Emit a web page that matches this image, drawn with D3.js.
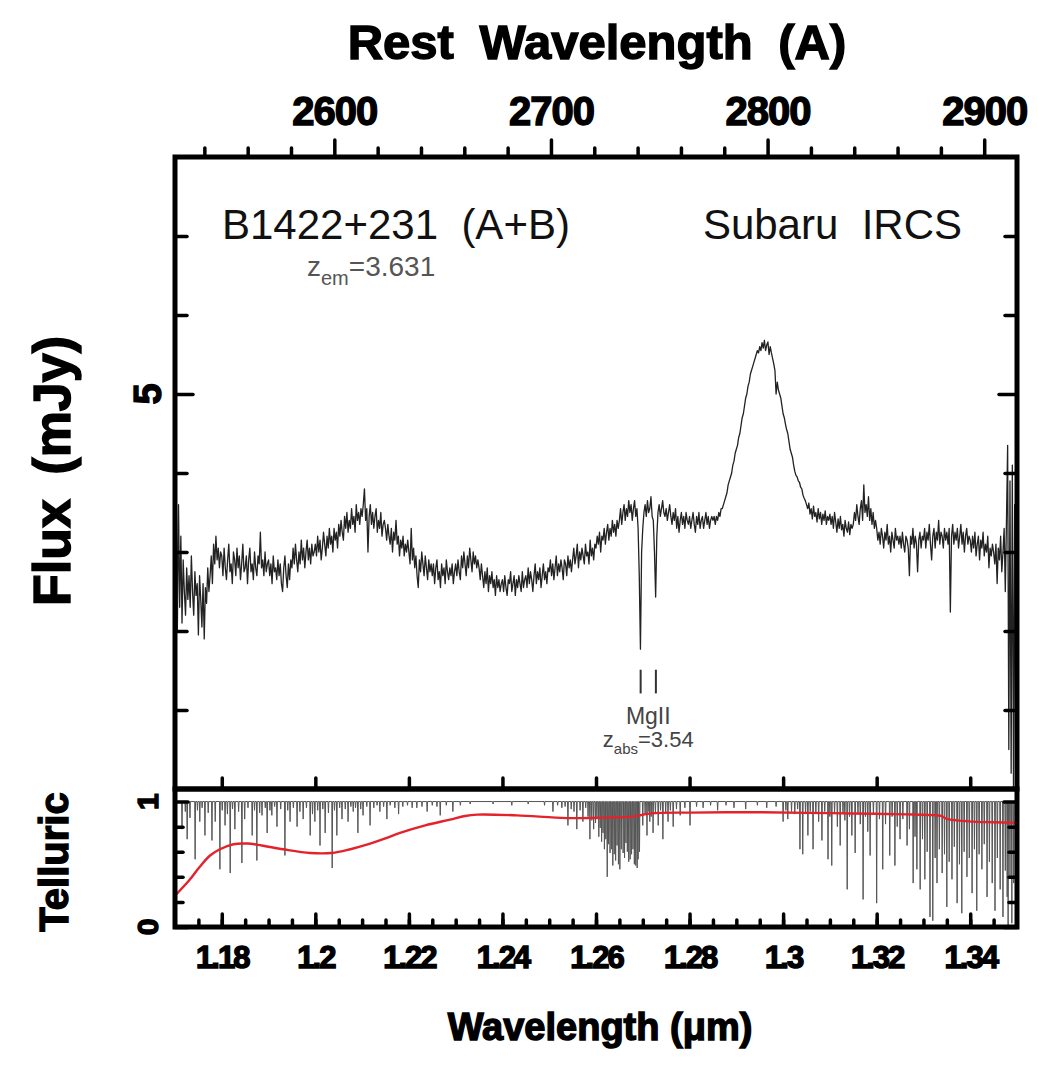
<!DOCTYPE html>
<html>
<head>
<meta charset="utf-8">
<script src="https://cdn.jsdelivr.net/npm/d3@7"></script>
<style>
  body { margin: 0; background: #fff; }
  svg { display: block; }
  text { font-family: "Liberation Sans", Arial, Helvetica, sans-serif; }
</style>
</head>
<body>
<svg id="chart" width="1037" height="1065"></svg>
<script>
// ---- Data -------------------------------------------------------------
const zEm = 3.631;            // emission redshift of the quasar
const zAbs = 3.54;            // MgII absorber redshift
const lambdaStart = 1.17;     // first pixel of the extracted spectrum (micron)
const lambdaStep = 0.00025;   // dispersion per pixel (micron)

// Observed flux density (mJy), one value per pixel from 1.17000 to 1.34975 micron
const flux = [
  3.0, 4.0, 2.0, 3.6, 2.3, 3.2, 2.1, 2.9, 2.5, 2.2, 2.8, 2.4, 2.7, 2.3, 2.95, 2.5, 2.2, 2.75, 2.45, 2.6,
  1.95, 2.7, 2.4, 2.05, 2.6, 1.9, 2.55, 2.35, 2.8, 2.5, 2.7, 2.95, 2.6, 3.1, 2.85, 3.2, 2.9, 3.05, 2.8, 3.0,
  2.95, 2.7, 3.05, 2.8, 2.65, 2.9, 3.1, 2.75, 2.85, 2.6, 3.0, 2.9, 2.7, 3.05, 2.8, 2.95, 2.65, 2.85, 3.1, 2.75,
  2.8, 2.95, 2.6, 2.9, 3.05, 2.75, 2.85, 2.65, 3.0, 2.8, 2.7, 2.95, 2.85, 3.25, 2.8, 2.9, 2.7, 3.0, 2.75, 2.85,
  2.9, 2.7, 2.85, 2.6, 2.95, 2.75, 2.8, 2.65, 2.9, 2.7, 2.85, 2.6, 2.5, 2.8, 2.95, 2.7, 2.55, 2.85, 2.65, 2.9,
  2.8, 3.05, 2.85, 3.1, 2.9, 2.75, 3.0, 2.85, 3.15, 2.9, 3.05, 2.8, 3.0, 3.15, 2.9, 3.05, 2.85, 3.1, 2.95, 3.0,
  3.1, 2.95, 3.2, 3.0, 3.15, 2.9, 3.05, 3.25, 3.1, 2.95, 3.2, 3.05, 3.3, 3.1, 3.2, 3.0, 3.3, 3.15, 3.25, 3.05,
  3.35, 3.2, 3.4, 3.25, 3.15, 3.45, 3.3, 3.5, 3.25, 3.4, 3.3, 3.55, 3.35, 3.45, 3.25, 3.6, 3.4, 3.5, 3.35, 3.55,
  3.45, 3.6, 3.8, 3.4, 3.55, 3.0, 3.45, 3.6, 3.35, 3.5, 3.3, 3.45, 3.55, 3.25, 3.4, 3.3, 3.5, 3.2, 3.35, 3.4,
  3.3, 3.15, 3.35, 3.2, 3.1, 3.3, 3.0, 3.25, 3.15, 3.4, 3.1, 3.2, 2.95, 3.15, 3.05, 3.2, 2.95, 3.1, 3.0, 3.15,
  3.0, 2.85, 3.3, 2.9, 3.05, 2.8, 2.95, 2.7, 2.55, 2.9, 2.75, 3.0, 2.85, 2.7, 2.95, 2.8, 2.65, 2.9, 2.75, 2.85,
  2.7, 2.85, 2.6, 2.8, 2.9, 2.65, 2.75, 2.55, 2.85, 2.7, 2.8, 2.6, 2.9, 2.75, 2.65, 2.8, 2.7, 2.85, 2.6, 2.75,
  2.85, 2.7, 2.9, 2.75, 2.65, 2.95, 2.8, 3.0, 2.85, 2.7, 2.95, 2.8, 3.05, 2.9, 2.75, 3.0, 2.85, 2.95, 2.8, 2.9,
  2.8, 2.65, 2.85, 2.7, 2.55, 2.75, 2.6, 2.8, 2.5, 2.7, 2.6, 2.75, 2.55, 2.65, 2.45, 2.7, 2.55, 2.65, 2.5, 2.6,
  2.65, 2.5, 2.7, 2.55, 2.45, 2.65, 2.6, 2.75, 2.5, 2.6, 2.7, 2.45, 2.65, 2.55, 2.7, 2.6, 2.5, 2.75, 2.55, 2.65,
  2.7, 2.55, 2.8, 2.6, 2.75, 2.65, 2.5, 2.7, 2.85, 2.6, 2.75, 2.65, 2.8, 2.55, 2.7, 2.85, 2.65, 2.75, 2.6, 2.8,
  2.75, 2.9, 2.7, 2.85, 2.65, 2.8, 2.95, 2.7, 2.85, 2.75, 2.9, 2.8, 2.65, 2.9, 2.85, 2.7, 2.95, 2.8, 2.9, 2.75,
  2.9, 3.05, 2.85, 2.95, 3.1, 2.8, 3.0, 2.9, 3.05, 2.95, 2.85, 3.1, 2.95, 3.0, 2.85, 3.15, 2.95, 3.05, 2.9, 3.1,
  3.05, 3.2, 3.1, 3.25, 3.0, 3.2, 3.15, 3.3, 3.1, 3.25, 3.35, 3.15, 3.3, 3.2, 3.4, 3.25, 3.35, 3.2, 3.4, 3.3,
  3.4, 3.55, 3.35, 3.5, 3.6, 3.4, 3.55, 3.45, 3.65, 3.5, 3.6, 3.4, 3.55, 3.65, 3.45, 3.55, 3.3, 2.7, 1.77, 3.0,
  3.3, 3.5, 3.6, 3.45, 3.65, 3.5, 3.55, 3.7, 3.45, 3.4, 3.0, 2.43, 3.2, 3.5, 3.6, 3.45, 3.55, 3.65, 3.5, 3.45,
  3.55, 3.4, 3.5, 3.6, 3.45, 3.35, 3.5, 3.4, 3.55, 3.3, 3.45, 3.25, 3.4, 3.5, 3.35, 3.45, 3.3, 3.5, 3.4, 3.35,
  3.45, 3.3, 3.4, 3.5, 3.35, 3.25, 3.45, 3.35, 3.5, 3.3, 3.4, 3.45, 3.3, 3.4, 3.5, 3.35, 3.45, 3.3, 3.4, 3.45,
  3.4, 3.45, 3.35, 3.45, 3.4, 3.5, 3.45, 3.55, 3.55, 3.6, 3.65, 3.7, 3.75, 3.85, 3.9, 3.95, 4.0, 4.1, 4.15, 4.25,
  4.3, 4.35, 4.45, 4.5, 4.6, 4.7, 4.75, 4.85, 4.95, 5.0, 5.1, 5.15, 5.25, 5.3, 5.35, 5.4, 5.45, 5.5, 5.55, 5.52,
  5.6, 5.55, 5.65, 5.58, 5.68, 5.55, 5.62, 5.66, 5.5, 5.6, 5.52, 5.45, 5.38, 5.3, 5.0, 5.15, 5.05, 5.0, 4.95, 4.85,
  4.75, 4.7, 4.62, 4.55, 4.5, 4.4, 4.3, 4.25, 4.2, 4.1, 4.02, 3.97, 3.95, 3.9, 3.88, 3.82, 3.8, 3.72, 3.68, 3.65,
  3.6, 3.55, 3.62, 3.48, 3.55, 3.42, 3.58, 3.45, 3.5, 3.38, 3.55, 3.42, 3.5, 3.35, 3.48, 3.4, 3.52, 3.35, 3.45, 3.4,
  3.48, 3.35, 3.45, 3.3, 3.5, 3.38, 3.25, 3.42, 3.3, 3.45, 3.28, 3.35, 3.2, 3.4, 3.3, 3.25, 3.38, 3.22, 3.35, 3.3,
  3.35, 3.5, 3.4, 3.6, 3.45, 3.35, 3.55, 3.65, 3.4, 3.85, 3.5, 3.6, 3.45, 3.7, 3.4, 3.55, 3.35, 3.5, 3.3, 3.4,
  3.3, 3.15, 3.25, 3.1, 3.3, 3.2, 3.05, 3.25, 3.15, 3.35, 3.1, 3.2, 3.0, 3.25, 3.15, 3.05, 3.3, 3.15, 3.2, 3.1,
  3.2, 3.05, 3.25, 3.1, 3.0, 3.2, 3.15, 3.05, 2.7, 3.2, 3.1, 3.3, 3.05, 3.2, 3.1, 2.75, 3.15, 3.25, 3.05, 3.2,
  3.15, 3.3, 3.05, 3.25, 3.15, 3.35, 3.1, 2.9, 3.2, 3.3, 3.05, 3.25, 3.15, 3.4, 3.1, 3.25, 3.2, 3.05, 3.3, 3.15,
  3.25, 3.1, 3.3, 2.24, 3.2, 3.35, 3.1, 3.25, 3.15, 3.3, 3.05, 3.2, 3.35, 3.1, 3.25, 3.0, 3.2, 3.3, 3.1, 3.2,
  3.15, 3.0, 3.2, 3.05, 3.25, 2.95, 3.1, 3.2, 2.9, 3.15, 3.05, 3.25, 2.95, 3.1, 3.0, 3.2, 2.8, 3.05, 2.95, 3.1,
  3.0, 2.85, 3.1, 2.6, 3.05, 2.9, 3.2, 2.75, 3.0, 3.3, 2.5, 3.4, 4.35, 0.5, 3.9, 0.2, 4.1, 0.0, 3.6, 0.0
];

// MgII doublet rest wavelengths (micron)
const mgIIRest = [0.279635, 0.280353];

// Telluric standard: absorption lines [wavelength (micron), transmission at line centre]
const tellLines = [
  [1.1715,0.78],[1.1722,0.92],[1.1726,0.70],[1.1732,0.87],[1.1743,0.54],[1.1748,0.93],[1.1753,0.84],[1.1758,0.95],
  [1.1764,0.73],[1.1771,0.91],[1.1779,0.69],[1.1786,0.84],[1.1796,0.46],[1.1801,0.93],[1.1807,0.81],[1.1812,0.90],
  [1.1818,0.43],[1.1823,0.94],[1.1828,0.78],[1.1836,0.92],[1.1843,0.51],[1.1849,0.86],[1.1856,0.95],[1.1865,0.73],
  [1.1870,0.93],[1.1875,0.53],[1.1881,0.91],[1.1886,0.89],[1.1893,0.95],[1.1897,0.75],[1.1903,0.93],[1.1907,0.89],
  [1.1913,0.96],[1.1918,0.80],[1.1926,0.94],[1.1935,0.57],[1.1941,0.93],[1.1946,0.84],[1.1953,0.95],[1.1961,0.80],
  [1.1967,0.92],[1.1974,0.86],[1.1981,0.95],[1.1989,0.73],[1.1994,0.90],[1.1999,0.84],[1.2005,0.93],[1.2010,0.65],
  [1.2016,0.94],[1.2021,0.75],[1.2028,0.91],[1.2036,0.47],[1.2041,0.93],[1.2046,0.73],[1.2052,0.95],[1.2057,0.86],
  [1.2064,0.94],[1.2070,0.84],[1.2076,0.96],[1.2081,0.92],[1.2086,0.95],[1.2091,0.75],[1.2097,0.94],[1.2102,0.89],
  [1.2110,0.96],[1.2117,0.81],[1.2125,0.95],[1.2132,0.97],[1.2138,0.92],[1.2146,0.96],[1.2153,0.86],[1.2160,0.97],
  [1.2170,0.95],[1.2178,0.90],[1.2187,0.96],[1.2197,0.97],[1.2207,0.95],[1.2217,0.95],[1.2228,0.96],[1.2239,0.92],
  [1.2250,0.97],[1.2260,0.96],[1.2267,0.89],[1.2280,0.97],[1.2294,0.92],[1.2310,0.97],[1.2331,0.98],
  [1.2380,0.98],[1.2420,0.97],[1.2455,0.98],[1.2490,0.97],[1.2508,0.92],[1.2518,0.97],[1.2527,0.95],[1.2534,0.96],
  [1.2540,0.81],[1.2547,0.94],[1.2553,0.92],[1.2559,0.78],[1.2566,0.93],[1.2572,0.84],[1.2578,0.95],
  [1.2583,0.88],[1.2587,0.70],[1.2591,0.85],[1.2595,0.78],[1.2599,0.83],[1.2602,0.86],[1.2606,0.72],[1.2609,0.79],
  [1.2612,0.68],[1.2615,0.75],[1.2618,0.62],[1.2621,0.70],[1.2624,0.40],[1.2627,0.66],[1.2630,0.59],[1.2633,0.62],
  [1.2636,0.49],[1.2639,0.58],[1.2642,0.53],[1.2645,0.65],[1.2648,0.50],[1.2651,0.46],[1.2654,0.62],[1.2658,0.59],
  [1.2661,0.55],[1.2664,0.67],[1.2667,0.60],[1.2670,0.52],[1.2673,0.54],[1.2676,0.58],[1.2679,0.62],[1.2682,0.50],
  [1.2685,0.49],[1.2688,0.47],[1.2690,0.54],[1.2693,0.60],
  [1.2700,0.81],[1.2705,0.90],[1.2709,0.73],[1.2713,0.92],[1.2715,0.84],[1.2718,0.88],[1.2722,0.75],[1.2727,0.90],
  [1.2733,0.81],[1.2738,0.93],[1.2743,0.70],[1.2749,0.91],[1.2754,0.84],[1.2759,0.93],[1.2765,0.80],[1.2772,0.94],
  [1.2780,0.89],[1.2790,0.95],[1.2801,0.81],[1.2815,0.96],[1.2829,0.95],[1.2845,0.97],[1.2860,0.93],[1.2878,0.97],
  [1.2895,0.95],[1.2920,0.94],[1.2945,0.97],[1.2965,0.95],[1.2985,0.96],
  [1.3000,0.84],[1.3006,0.93],[1.3010,0.86],[1.3018,0.92],[1.3025,0.90],[1.3031,0.94],[1.3036,0.62],[1.3042,0.58],
  [1.3048,0.90],[1.3053,0.73],[1.3058,0.92],[1.3064,0.62],[1.3070,0.90],[1.3076,0.84],[1.3083,0.69],[1.3089,0.92],
  [1.3096,0.54],[1.3100,0.88],[1.3104,0.49],[1.3110,0.91],[1.3116,0.80],[1.3122,0.65],[1.3128,0.90],[1.3132,0.85],
  [1.3137,0.30],[1.3142,0.88],[1.3147,0.73],[1.3154,0.59],[1.3160,0.90],[1.3165,0.82],[1.3171,0.22],[1.3176,0.88],
  [1.3181,0.76],[1.3186,0.57],[1.3193,0.90],[1.3200,0.19],[1.3206,0.86],[1.3213,0.46],[1.3219,0.82],[1.3228,0.57],
  [1.3233,0.88],[1.3239,0.49],[1.3244,0.80],[1.3250,0.70],[1.3256,0.86],[1.3265,0.65],[1.3270,0.78],[1.3278,0.35],
  [1.3282,0.72],[1.3286,0.46],[1.3293,0.30],[1.3298,0.70],[1.3303,0.38],[1.3308,0.60],[1.3314,0.08],[1.3320,0.05],
  [1.3325,0.55],[1.3329,0.35],[1.3334,0.62],[1.3340,0.43],[1.3345,0.58],[1.3350,0.16],[1.3355,0.52],[1.3361,0.38],
  [1.3366,0.64],[1.3372,0.19],[1.3377,0.50],[1.3382,0.11],[1.3387,0.60],[1.3393,0.40],[1.3398,0.55],[1.3404,0.27],
  [1.3409,0.62],[1.3414,0.13],[1.3419,0.58],[1.3425,0.46],[1.3430,0.66],[1.3436,0.24],[1.3441,0.52],[1.3447,0.35],
  [1.3453,0.13],[1.3458,0.55],[1.3464,0.30],[1.3470,0.08],[1.3475,0.45],[1.3479,0.24],[1.3481,0.00],[1.3485,0.40],
  [1.3489,0.03],[1.3493,0.35],[1.3497,0.15]
];

// Smoothed telluric response (red curve): [wavelength (micron), transmission]
const tellFit = [
  [1.1700,0.25],[1.1730,0.37],[1.1753,0.48],[1.1775,0.57],[1.1796,0.62],[1.1825,0.66],[1.1855,0.665],[1.1885,0.65],
  [1.1931,0.62],[1.1989,0.59],[1.2035,0.59],[1.2075,0.62],[1.2110,0.656],[1.2145,0.70],[1.2181,0.75],[1.2235,0.81],
  [1.2288,0.856],[1.2320,0.885],[1.2346,0.896],[1.2431,0.89],[1.2538,0.868],[1.2620,0.872],[1.2679,0.88],[1.2715,0.905],
  [1.2800,0.912],[1.2929,0.915],[1.3050,0.91],[1.3150,0.905],[1.3265,0.898],[1.3320,0.892],[1.3338,0.885],[1.3350,0.862],
  [1.3406,0.84],[1.3450,0.835],[1.3500,0.83]
];

// Axis ticks
const obsMajorTicks = [1.18, 1.2, 1.22, 1.24, 1.26, 1.28, 1.3, 1.32, 1.34];
const obsMinorTicks = [1.175, 1.18, 1.185, 1.19, 1.195, 1.2, 1.205, 1.21, 1.215, 1.22, 1.225, 1.23, 1.235, 1.24, 1.245,
  1.25, 1.255, 1.26, 1.265, 1.27, 1.275, 1.28, 1.285, 1.29, 1.295, 1.3, 1.305, 1.31, 1.315, 1.32, 1.325, 1.33, 1.335,
  1.34, 1.345];
const restMajorTicks = [2600, 2700, 2800, 2900];
const restMinorTicks = [2540, 2560, 2580, 2620, 2640, 2660, 2680, 2720, 2740, 2760, 2780, 2820, 2840, 2860, 2880];
const fluxTicks = [1, 2, 3, 4, 5, 6, 7];
const fluxLabelTicks = [5];
const tellTicks = [0.2, 0.4, 0.6, 0.8];
const tellLabelTicks = [0, 1];

// ---- Layout -----------------------------------------------------------
const L = 175, R = 1017, TOP = 157, MID = 789, BOT = 927;
const svg = d3.select("#chart");

const x = d3.scaleLinear().domain([1.17, 1.35]).range([L, R]);
const xRest = d3.scaleLinear()
  .domain([1.17e4 / (1 + zEm), 1.35e4 / (1 + zEm)]).range([L, R]);
const y = d3.scaleLinear().domain([0, 8]).range([MID, TOP]);
const yT = d3.scaleLinear().domain([0, 1.1]).range([BOT, MID]);

const defs = svg.append("defs");
defs.append("clipPath").attr("id", "clipMain")
  .append("rect").attr("x", L).attr("y", TOP).attr("width", R - L).attr("height", MID - TOP);
defs.append("clipPath").attr("id", "clipTell")
  .append("rect").attr("x", L).attr("y", MID).attr("width", R - L).attr("height", BOT - MID);

// ---- Spectrum ----------------------------------------------------------
const spec = flux.map((f, i) => [lambdaStart + i * lambdaStep, f]);
svg.append("path")
  .datum(spec)
  .attr("clip-path", "url(#clipMain)")
  .attr("fill", "none")
  .attr("stroke", "#222")
  .attr("stroke-width", 1.3)
  .attr("stroke-linejoin", "round")
  .attr("d", d3.line().x(d => x(d[0])).y(d => y(d[1])));

// ---- Telluric spectrum --------------------------------------------------
const halfWidth = 0.00009;
const tellPts = [[1.17, 1.0]];
tellLines.forEach(([lam, t]) => {
  tellPts.push([lam - halfWidth, 1.0], [lam, t], [lam + halfWidth, 1.0]);
});
tellPts.push([1.35, 1.0]);
svg.append("path")
  .datum(tellPts)
  .attr("clip-path", "url(#clipTell)")
  .attr("fill", "none")
  .attr("stroke", "#555")
  .attr("stroke-width", 1)
  .attr("d", d3.line().x(d => x(d[0])).y(d => yT(d[1])));

svg.append("path")
  .datum(tellFit)
  .attr("clip-path", "url(#clipTell)")
  .attr("fill", "none")
  .attr("stroke", "#e3222b")
  .attr("stroke-width", 2.4)
  .attr("d", d3.line().curve(d3.curveCatmullRom).x(d => x(d[0])).y(d => yT(d[1])));

// ---- Axes --------------------------------------------------------------
function styleAxis(g) {
  g.select(".domain").remove();
  g.selectAll(".tick line").attr("stroke", "#000").attr("stroke-width", 3.5).attr("stroke-linecap", "round");
}
function tickLabels(g, size, spacing) {
  g.selectAll(".tick text")
    .attr("fill", "#000").attr("stroke", "#000").attr("stroke-width", 1.4)
    .style("font-size", size + "px").style("font-weight", "bold")
    .style("letter-spacing", spacing + "px");
}

// Rest-frame wavelength axis on top
svg.append("g").attr("transform", `translate(0,${TOP})`)
  .call(d3.axisTop(xRest).tickValues(restMinorTicks).tickSize(9).tickFormat(""))
  .call(styleAxis);
svg.append("g").attr("transform", `translate(0,${TOP})`)
  .call(d3.axisTop(xRest).tickValues(restMajorTicks).tickSize(17).tickPadding(15).tickFormat(d3.format("d")))
  .call(styleAxis)
  .call(g => tickLabels(g, 40, -1));

// Bottom of upper panel: ticks only
svg.append("g").attr("transform", `translate(0,${MID})`)
  .call(d3.axisBottom(x).tickValues(obsMajorTicks).tickSize(-11).tickFormat(""))
  .call(styleAxis);

// Observed wavelength axis under telluric panel
svg.append("g").attr("transform", `translate(0,${BOT})`)
  .call(d3.axisBottom(x).tickValues(obsMinorTicks).tickSize(-7).tickFormat(""))
  .call(styleAxis);
svg.append("g").attr("transform", `translate(0,${BOT})`)
  .call(d3.axisBottom(x).tickValues(obsMajorTicks).tickSize(-13).tickPadding(12).tickFormat(d3.format("~g")))
  .call(styleAxis)
  .call(g => tickLabels(g, 31, -2))
  .call(g => g.selectAll(".tick text").attr("dy", "0.95em"));

// Flux axes (left and right, inward ticks)
svg.append("g").attr("transform", `translate(${L},0)`)
  .call(d3.axisRight(y).tickValues(fluxTicks.filter(v => !fluxLabelTicks.includes(v))).tickSize(12).tickFormat(""))
  .call(styleAxis);
svg.append("g").attr("transform", `translate(${L},0)`)
  .call(d3.axisRight(y).tickValues(fluxLabelTicks).tickSize(18).tickFormat(""))
  .call(styleAxis);
svg.append("g").attr("transform", `translate(${R},0)`)
  .call(d3.axisLeft(y).tickValues(fluxTicks.filter(v => !fluxLabelTicks.includes(v))).tickSize(12).tickFormat(""))
  .call(styleAxis);
svg.append("g").attr("transform", `translate(${R},0)`)
  .call(d3.axisLeft(y).tickValues(fluxLabelTicks).tickSize(18).tickFormat(""))
  .call(styleAxis);

// Telluric axes
[[L, d3.axisRight], [R, d3.axisLeft]].forEach(([pos, ax]) => {
  svg.append("g").attr("transform", `translate(${pos},0)`)
    .call(ax(yT).tickValues(tellTicks).tickSize(8).tickFormat(""))
    .call(styleAxis);
  svg.append("g").attr("transform", `translate(${pos},0)`)
    .call(ax(yT).tickValues(tellLabelTicks).tickSize(13).tickFormat(""))
    .call(styleAxis);
});

// Rotated numeric labels on the left axes
function leftLabel(val, scale, size, offset) {
  svg.append("text")
    .attr("transform", `translate(${L - offset},${scale(val)}) rotate(-90)`)
    .attr("text-anchor", "middle")
    .attr("fill", "#000").attr("stroke", "#000").attr("stroke-width", 1.4)
    .style("font-size", size + "px").style("font-weight", "bold")
    .text(d3.format("d")(val));
}
fluxLabelTicks.forEach(v => leftLabel(v, y, 38, 14));
tellLabelTicks.forEach(v => leftLabel(v, yT, 30, 17));

// Panel frames
svg.append("rect").attr("x", L).attr("y", TOP).attr("width", R - L).attr("height", MID - TOP)
  .attr("fill", "none").attr("stroke", "#000").attr("stroke-width", 5);
svg.append("rect").attr("x", L).attr("y", MID).attr("width", R - L).attr("height", BOT - MID)
  .attr("fill", "none").attr("stroke", "#000").attr("stroke-width", 5);

// ---- Axis titles -------------------------------------------------------
function boldTitle(sel, size) {
  return sel.attr("fill", "#000").attr("stroke", "#000").attr("stroke-width", 1.4)
    .style("font-size", size + "px").style("font-weight", "bold");
}
boldTitle(svg.append("text").attr("x", 597).attr("y", 59).attr("text-anchor", "middle")
  .style("word-spacing", "12px").text("Rest Wavelength (A)"), 49);
boldTitle(svg.append("text").attr("x", 600).attr("y", 1040).attr("text-anchor", "middle")
  .text("Wavelength (\u03bcm)"), 38);
boldTitle(svg.append("text").attr("transform", "translate(70,471) rotate(-90)").attr("text-anchor", "middle")
  .style("word-spacing", "10px").text("Flux (mJy)"), 52);
boldTitle(svg.append("text").attr("transform", "translate(68,862) rotate(-90)").attr("text-anchor", "middle")
  .text("Telluric"), 40);

// ---- Annotations -------------------------------------------------------
svg.append("text").attr("x", 222).attr("y", 239)
  .style("font-size", "42px").style("white-space", "pre").attr("fill", "#111")
  .text("B1422+231  (A+B)");
svg.append("text").attr("x", 962).attr("y", 239).attr("text-anchor", "end")
  .style("font-size", "42px").style("white-space", "pre").attr("fill", "#111")
  .text("Subaru  IRCS");

const zem = svg.append("text").attr("x", 307).attr("y", 276).attr("fill", "#555").style("font-size", "28px");
zem.append("tspan").text("z");
zem.append("tspan").attr("dy", 9).style("font-size", "20px").text("em");
zem.append("tspan").attr("dy", -9).text("=" + zEm.toFixed(3));

// MgII doublet markers
const mgObs = mgIIRest.map(l => l * (1 + zAbs));
svg.selectAll(".mgtick").data(mgObs).enter().append("line")
  .attr("class", "mgtick")
  .attr("x1", d => x(d)).attr("x2", d => x(d))
  .attr("y1", y(1.51)).attr("y2", y(1.21))
  .attr("stroke", "#333").attr("stroke-width", 2);
const mgX = d3.mean(mgObs, d => x(d));
svg.append("text").attr("x", mgX).attr("y", 724).attr("text-anchor", "middle")
  .attr("fill", "#444").style("font-size", "23px").text("MgII");
const zab = svg.append("text").attr("x", mgX).attr("y", 747).attr("text-anchor", "middle")
  .attr("fill", "#444").style("font-size", "22px");
zab.append("tspan").text("z");
zab.append("tspan").attr("dy", 7).style("font-size", "15px").text("abs");
zab.append("tspan").attr("dy", -7).text("=" + zAbs.toFixed(2));
</script>
</body>
</html>
